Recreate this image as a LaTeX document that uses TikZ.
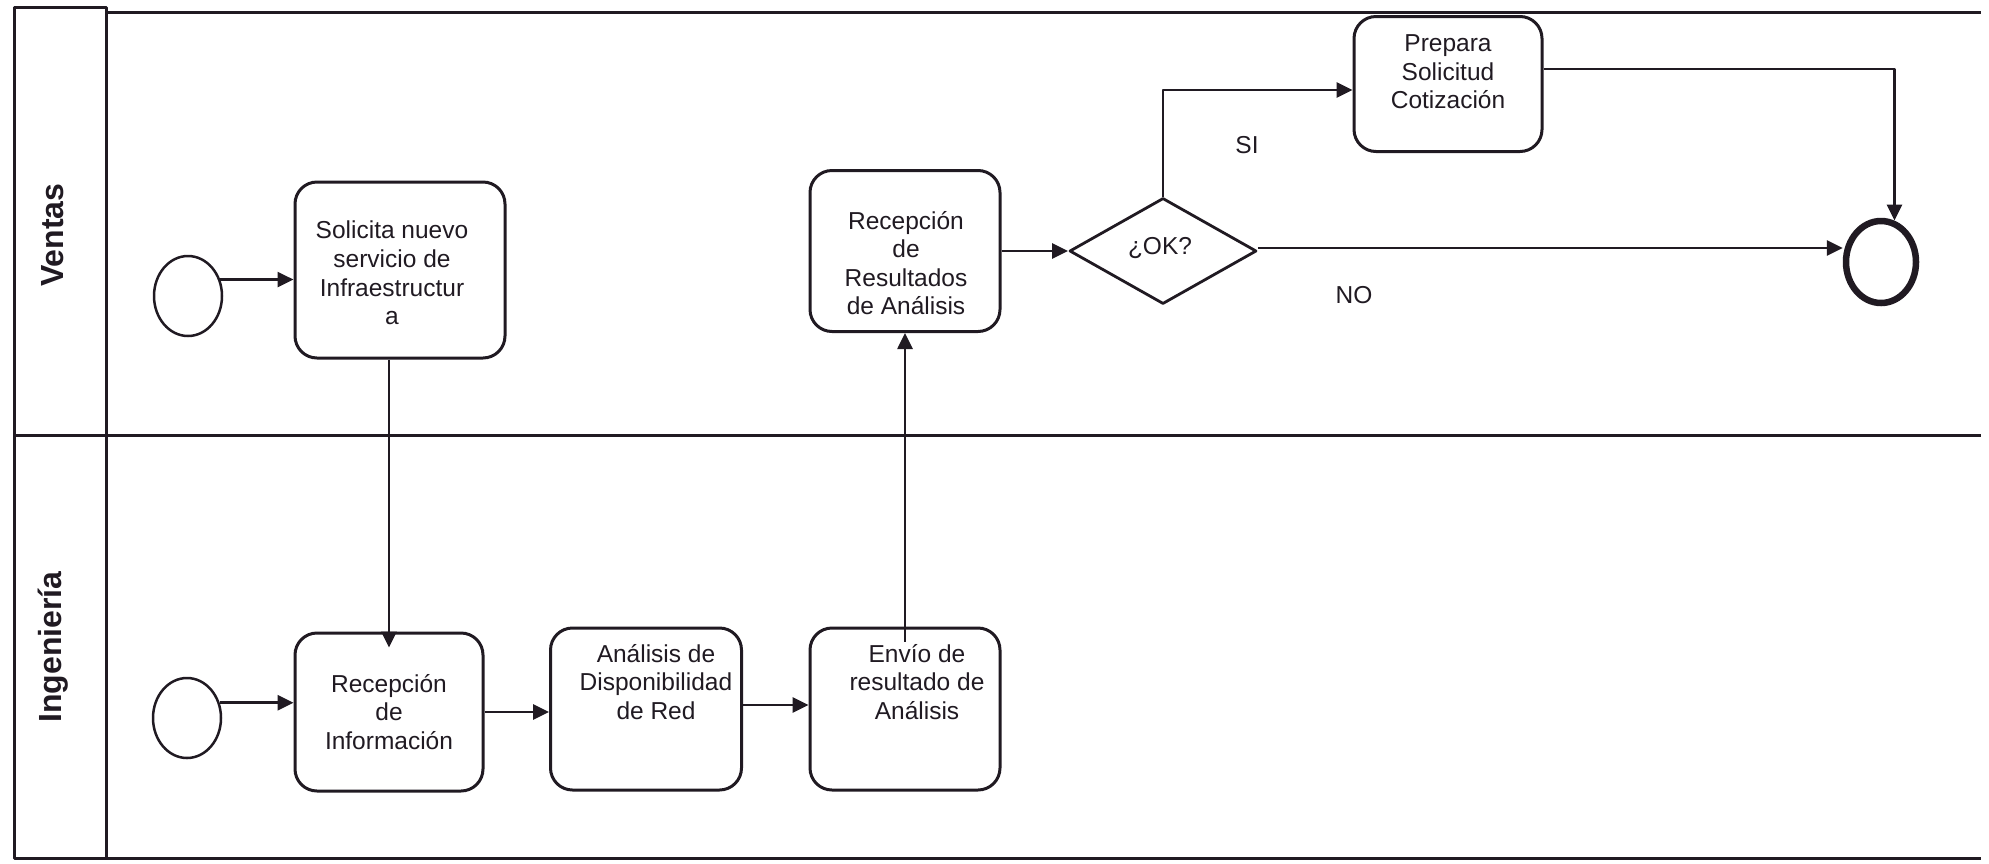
\documentclass[tikz,border=0pt]{standalone}
\usepackage{fontspec}
\setmainfont{Liberation Sans}
\usetikzlibrary{shapes.geometric,arrows.meta,calc}
\definecolor{ink}{RGB}{32,26,34}
\begin{document}
\begin{tikzpicture}[x=1pt,y=-1pt,
  line join=round,
  every node/.style={text=ink, font=\fontsize{24.5}{28.6}\selectfont},
  task/.style={draw=ink, line width=3pt, rounded corners=22pt, inner sep=0pt},
  tasktext/.style={align=center, inner sep=0pt},
  event/.style={draw=ink, ellipse, line width=2.5pt, inner sep=0pt, minimum width=68pt, minimum height=80pt},
  endevent/.style={draw=ink, ellipse, line width=6.5pt, inner sep=0pt, minimum width=70pt, minimum height=82pt},
  gateway/.style={draw=ink, diamond, line width=2.8pt, inner sep=0pt, minimum width=187pt, minimum height=106pt},
  flow/.style={draw=ink, line width=2.7pt, -{Triangle[length=16pt,width=15pt]}},
  lane/.style={draw=ink, line width=3pt},
  lanetitle/.style={rotate=90, inner sep=0pt, font=\fontsize{32}{36}\bfseries\selectfont}
]
\useasboundingbox (0,0) rectangle (1989,863);

% pool frame and lanes
\draw[lane] (14,7) rectangle (106,858);
\draw[lane] (106,12) -- (1981,12);
\draw[lane] (14,435) -- (1981,435);
\draw[lane] (106,858) -- (1981,858);
\node[lanetitle] (ventas) at (53,235) {Ventas};
\node[lanetitle] (ingenieria) at (53,647) {Ingeniería};

% Ventas lane
\node[event] (sv) at (188,296) {};
\node[task, minimum width=210pt, minimum height=176pt] (solicita) at (400,270) {};
\node[tasktext] (solicita-t) at ($(solicita.center)+(-8,3)$) {Solicita nuevo\\servicio de\\Infraestructur\\a};
\node[task, minimum width=190pt, minimum height=161pt] (recres) at (905,251) {};
\node[tasktext] (recres-t) at ($(recres.center)+(1,12)$) {Recepción\\de\\Resultados\\de Análisis};
\node[gateway] (ok) at (1163,251) {};
\node (ok-t) at (1160,248) {¿OK?};
\node[task, minimum width=188pt, minimum height=135pt] (prepara) at (1448,84) {};
\node[tasktext] (prepara-t) at ($(prepara.center)+(0,-12)$) {Prepara\\Solicitud\\Cotización};
\node[endevent] (fin) at (1881,262) {};
\node (si-lbl) at (1247,145) {SI};
\node (no-lbl) at (1354,295) {NO};

% Ingenieria lane
\node[event] (si) at (187,718) {};
\node[task, minimum width=188pt, minimum height=158pt] (recinfo) at (389,712) {};
\node[tasktext] (recinfo-t) at (recinfo.center) {Recepción\\de\\Información};
\node[task, minimum width=191pt, minimum height=162pt] (analisis) at (646,709) {};
\node[tasktext] (analisis-t) at ($(analisis.center)+(10,-27)$) {Análisis de\\Disponibilidad\\de Red};
\node[task, minimum width=190pt, minimum height=162pt] (envio) at (905,709) {};
\node[tasktext] (envio-t) at ($(envio.center)+(12,-27)$) {Envío de\\resultado de\\Análisis};

% sequence flows
\draw[flow] (sv.27) -- (sv.27 -| solicita.west);
\draw[flow, shorten >=-16pt] (solicita.south -| recinfo.north) -- (recinfo.north);
\draw[flow] (si.25) -- (si.25 -| recinfo.west);
\draw[flow] (recinfo.east) -- (recinfo.east -| analisis.west);
\draw[flow] ([yshift=4pt]analisis.east) -- ([yshift=4pt]analisis.east -| envio.west);
\draw[flow] ([yshift=-15pt]envio.north -| recres.south) -- (recres.south);
\draw[flow] (recres.east) -- (ok.west);
\draw[flow] (ok.north) |- ([yshift=-6pt]prepara.west);
\draw[flow] ([yshift=15pt]prepara.east) -| (fin.72);
\draw[flow] ([yshift=3pt]ok.east) -- ([yshift=3pt]ok.east -| fin.west);
\end{tikzpicture}
\end{document}
